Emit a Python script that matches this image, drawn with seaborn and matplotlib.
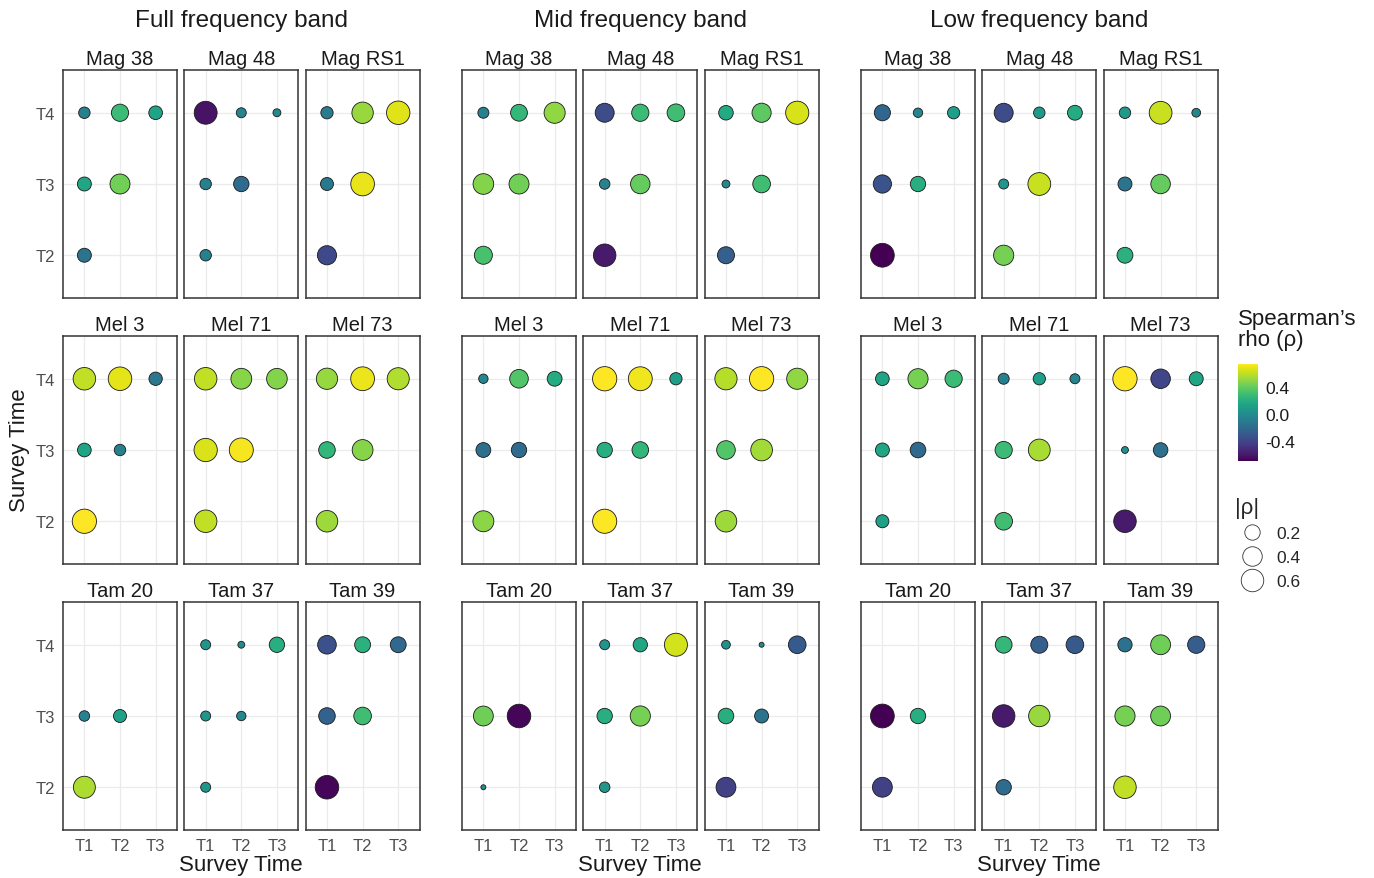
import numpy as np
import pandas as pd
import seaborn as sns
import matplotlib.pyplot as plt
from matplotlib.colors import Normalize, PowerNorm
from matplotlib.cm import ScalarMappable
from matplotlib.lines import Line2D

# Survey time labels and panel layout
times = ["T1", "T2", "T3", "T4"]
bands = ["Full frequency band", "Mid frequency band", "Low frequency band"]
site_rows = [["Mag 38", "Mag 48", "Mag RS1"],
             ["Mel 3", "Mel 71", "Mel 73"],
             ["Tam 20", "Tam 37", "Tam 39"]]

# the six survey pairs in every panel (x = earlier survey, y = later survey)
pair_x = ["T1", "T2", "T3", "T1", "T2", "T1"]
pair_y = ["T4", "T4", "T4", "T3", "T3", "T2"]

nan = np.nan

# Spearman's rho, one value per survey pair (order as pair_x / pair_y)
full_rho = {
    "Mag 38":  [-0.08, 0.28, 0.14, 0.15, 0.43, -0.15],
    "Mag 48":  [-0.63, -0.05, -0.02, -0.08, -0.20, -0.08],
    "Mag RS1": [-0.10, 0.52, 0.67, -0.12, 0.69, -0.38],
    "Mel 3":   [0.60, 0.68, -0.13, 0.14, -0.08, 0.74],
    "Mel 71":  [0.60, 0.48, 0.47, 0.66, 0.72, 0.60],
    "Mel 73":  [0.51, 0.70, 0.57, 0.25, 0.48, 0.53],
    "Tam 20":  [nan, nan, nan, -0.06, 0.12, 0.56],
    "Tam 37":  [0.05, -0.01, 0.20, 0.05, -0.04, 0.05],
    "Tam 39":  [-0.35, 0.22, -0.22, -0.25, 0.30, -0.68],
}
mid_rho = {
    "Mag 38":  [-0.07, 0.26, 0.50, 0.47, 0.43, 0.32],
    "Mag 48":  [-0.37, 0.28, 0.30, -0.06, 0.40, -0.60],
    "Mag RS1": [0.17, 0.38, 0.65, -0.02, 0.30, -0.27],
    "Mel 3":   [-0.04, 0.35, 0.18, -0.18, -0.20, 0.49],
    "Mel 71":  [0.74, 0.71, 0.10, 0.20, 0.25, 0.73],
    "Mel 73":  [0.58, 0.74, 0.50, 0.35, 0.54, 0.53],
    "Tam 20":  [nan, nan, nan, 0.42, -0.68, 0.00],
    "Tam 37":  [0.05, 0.16, 0.64, 0.20, 0.44, 0.06],
    "Tam 39":  [0.03, 0.00, -0.30, 0.21, -0.15, -0.42],
}
low_rho = {
    "Mag 38":  [-0.23, -0.04, 0.10, -0.33, 0.20, -0.70],
    "Mag 48":  [-0.37, 0.08, 0.18, 0.05, 0.62, 0.44],
    "Mag RS1": [0.08, 0.62, -0.03, -0.15, 0.40, 0.22],
    "Mel 3":   [0.14, 0.44, 0.28, 0.15, -0.21, 0.12],
    "Mel 71":  [-0.07, 0.10, -0.05, 0.28, 0.55, 0.30],
    "Mel 73":  [0.74, -0.40, 0.15, 0.01, -0.17, -0.60],
    "Tam 20":  [nan, nan, nan, -0.70, 0.20, -0.42],
    "Tam 37":  [0.26, -0.27, -0.30, -0.60, 0.52, -0.20],
    "Tam 39":  [-0.16, 0.42, -0.28, 0.44, 0.42, 0.60],
}
band_values = [full_rho, mid_rho, low_rho]

# long table
records = []
for band, values in zip(bands, band_values):
    for site, rhos in values.items():
        for tx, ty, rho in zip(pair_x, pair_y, rhos):
            if np.isnan(rho):
                continue
            records.append({"band": band, "site": site,
                            "xpos": times.index(tx), "ypos": times.index(ty) - 1,
                            "rho": rho, "absrho": abs(rho)})
df = pd.DataFrame(records)

rho_lim = (-0.70, 0.74)
size_range = (13, 305)
size_norm = PowerNorm(gamma=0.75, vmin=0, vmax=0.74)

sns.set_theme(style="white")
plt.rcParams["font.family"] = ["Liberation Sans", "DejaVu Sans"]
plt.rcParams["axes.unicode_minus"] = False

W, H = 1374, 879
fig = plt.figure(figsize=(W / 100, H / 100), dpi=100)

group_left = [63, 462, 861]
row_top = [71, 337, 603]
pw, ph, step = 114, 228, 121.3

for g, band in enumerate(bands):
    for r, row in enumerate(site_rows):
        for c, site in enumerate(row):
            left = group_left[g] + c * step
            ax = fig.add_axes([left / W, 1 - (row_top[r] + ph) / H, pw / W, ph / H])
            sub = df[(df["band"] == band) & (df["site"] == site)]
            sns.scatterplot(data=sub, x="xpos", y="ypos", hue="rho", size="absrho",
                            palette="viridis", hue_norm=rho_lim,
                            sizes=size_range, size_norm=size_norm,
                            edgecolor="#1a1a1a", linewidth=0.6, alpha=1,
                            legend=False, ax=ax, zorder=3)
            ax.set_xlim(-0.6, 2.6)
            ax.set_ylim(-0.6, 2.6)
            ax.set_xticks([0, 1, 2])
            ax.set_yticks([0, 1, 2])
            ax.set_xticklabels(times[:3] if r == 2 else [])
            ax.set_yticklabels(times[1:] if (g == 0 and c == 0) else [])
            ax.set_xlabel("")
            ax.set_ylabel("")
            ax.grid(True, color="#ebebeb", linewidth=0.9)
            ax.set_axisbelow(True)
            for sp in ax.spines.values():
                sp.set_color("#333333")
                sp.set_linewidth(1.1)
            ax.tick_params(axis="both", length=4, width=0.8, color="#d4d4d4",
                           labelsize=12, labelcolor="#4d4d4d", pad=2)
            ax.set_title(site, fontsize=14.5, pad=4, color="#1a1a1a")

    cx = group_left[g] + (2 * step + pw) / 2
    fig.text(cx / W, 1 - 21 / H, band, ha="center", va="center",
             fontsize=17.5, color="#1a1a1a")
    fig.text(cx / W, 1 - 866 / H, "Survey Time", ha="center", va="center",
             fontsize=16, color="#1a1a1a")

fig.text(20 / W, 1 - 450 / H, "Survey Time", rotation=90, ha="center",
         va="center", fontsize=16, color="#1a1a1a")

# colour legend
fig.text(1238 / W, 1 - 330 / H, "Spearman’s\nrho (ρ)", ha="left", va="center",
         fontsize=16, linespacing=1.05, color="#1a1a1a")
cax = fig.add_axes([1238 / W, 1 - 462 / H, 20 / W, 97 / H])
sm = ScalarMappable(norm=Normalize(*rho_lim), cmap="viridis")
cb = fig.colorbar(sm, cax=cax, ticks=[-0.4, 0.0, 0.4])
cb.set_ticklabels(["-0.4", "0.0", "0.4"])
cb.outline.set_visible(False)
cb.ax.tick_params(length=4, width=0.8, color="white", direction="in",
                  labelsize=12.5, labelcolor="#1a1a1a", pad=5)

# size legend
legend_vals = [0.2, 0.4, 0.6]
handles = []
for v in legend_vals:
    s = size_range[0] + (size_range[1] - size_range[0]) * float(size_norm(v))
    handles.append(Line2D([], [], marker="o", linestyle="", markersize=np.sqrt(s),
                          markerfacecolor="white", markeredgecolor="#333333",
                          markeredgewidth=0.6))
leg = fig.legend(handles, [f"{v:.1f}" for v in legend_vals], title="|ρ|",
                 loc="upper left", bbox_to_anchor=(1219 / W, 1 - 482 / H),
                 frameon=False, fontsize=12.5, title_fontsize=16,
                 labelspacing=0.5, handletextpad=0.4, alignment="left")

fig.savefig("out.png", dpi=100)
